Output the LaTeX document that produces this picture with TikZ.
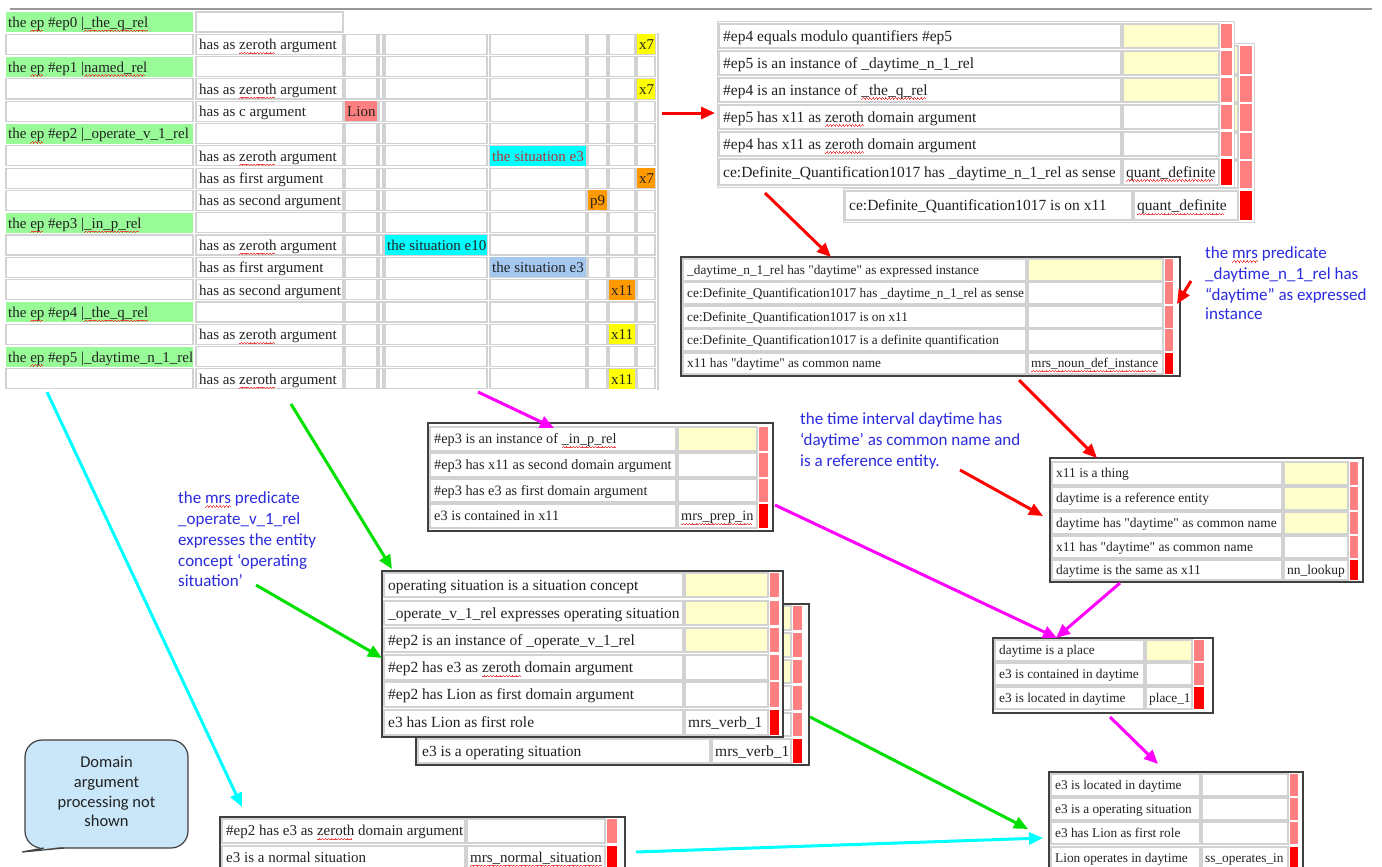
\documentclass[tikz,border=0pt]{standalone}
\usepackage{fontspec}
\setmainfont{Liberation Serif}
\newfontfamily\rawserif{Liberation Serif}
\newfontfamily\calib{Carlito}
\usetikzlibrary{arrows.meta}

\definecolor{lgreen}{HTML}{98FB98}
\definecolor{xyellow}{HTML}{FFFF00}
\definecolor{xorange}{HTML}{FF9900}
\definecolor{xsalmon}{HTML}{FF8080}
\definecolor{xcyan}{HTML}{00FFFF}
\definecolor{xlblue}{HTML}{A4C8F0}
\definecolor{pale}{HTML}{FFFFCC}
\definecolor{cellgray}{HTML}{D2D2D2}
\definecolor{framegray}{HTML}{404040}
\definecolor{notes}{HTML}{2B2BE0}
\definecolor{bubble}{HTML}{C9E7F8}
\definecolor{ink}{HTML}{222222}
\definecolor{sitred}{HTML}{B83232}
\definecolor{amag}{HTML}{FF00FF}
\definecolor{agreen}{HTML}{00E000}
\definecolor{acyan}{HTML}{00FFFF}
\definecolor{ared}{HTML}{FF0000}
\definecolor{squig}{HTML}{F04848}

% red wavy spell-check underline, built from tiny rules
\newcommand\wv{\hbox{\rule[-4.2pt]{.8pt}{.7pt}\rule[-3.6pt]{.8pt}{.7pt}\rule[-3.0pt]{.8pt}{.7pt}\rule[-3.6pt]{.8pt}{.7pt}}}
\newcommand\sqg[1]{\setbox0=\hbox{#1}\leavevmode\rlap{\textcolor{squig}{\leaders\wv\hskip\wd0\relax}}\box0\relax}
% straight double quote (no TeX quote mapping)
\newcommand\dq{{\rawserif\char"0022}}

% auto-named text nodes
\newcounter{nd}
\newcommand\tx[4][]{\stepcounter{nd}\node[txt,#1] (t\arabic{nd}) at ({#2},{#3}) {#4};}

% ---- the argument table (top left)
\newcommand\tlfont{\fontsize{15}{18}\selectfont}
\newcommand\tlgrid[1]{%
  \pgfmathsetmacro\yt{12+22.3*#1}\pgfmathsetmacro\yb{\yt+20}%
  \foreach \a/\b in {196/343,345/377,379/383,385/487,490/586,588/607,609/635,637/655}
    {\draw[cellln,fill=white] (\a,\yt) rectangle (\b,\yb);}}
\newcommand\tlhead[2]{%
  \tlgrid{#1}%
  \pgfmathsetmacro\yt{12+22.3*#1}\pgfmathsetmacro\yb{\yt+20}%
  \fill[lgreen] (6,\yt) rectangle (193,\yb);
  \tx{8}{\yt+15.5}{\tlfont #2}}
\newcommand\tlarg[2]{%
  \tlgrid{#1}%
  \pgfmathsetmacro\yt{12+22.3*#1}\pgfmathsetmacro\yb{\yt+20}%
  \draw[cellln,fill=white] (6,\yt) rectangle (193,\yb);
  \tx{199}{\yt+15.5}{\tlfont #2}}
\newcommand\tlval[6]{%
  \pgfmathsetmacro\yt{12+22.3*#1}\pgfmathsetmacro\yb{\yt+20}%
  \fill[#4] (#2,\yt) rectangle (#3,\yb);
  \tx[text=#5]{#2+2}{\yt+15.5}{\tlfont #6}}

% ---- fact tables: left, value column, bar from, bar to, font size
\newcommand\ftab[5]{\def\tL{#1}\def\tC{#2}\def\tBa{#3}\def\tBb{#4}\def\tF{#5}}
% row: top, bottom, text, value fill, value, bar fill
\newcommand\frow[6]{%
  \draw[cellln,fill=white] ({\tL+2},#1) rectangle ({\tC-1},#2);
  \draw[cellln,fill=#4] ({\tC+1},#1) rectangle ({\tBa-2},#2);
  \fill[#6] (\tBa,#1) rectangle (\tBb,#2);
  \pgfmathsetmacro\bl{(#1+#2)/2+0.33*\tF}%
  \if\relax\detokenize{#3}\relax\else\tx{\tL+6}{\bl}{\fontsize{\tF}{\tF}\selectfont #3}\fi
  \if\relax\detokenize{#5}\relax\else\tx{\tC+4}{\bl}{\fontsize{\tF}{\tF}\selectfont #5}\fi}

\begin{document}
\begin{tikzpicture}[x=1pt,y=-1pt,
  txt/.style={anchor=base west,inner sep=0pt,text=ink},
  cellln/.style={draw=cellgray,line width=1.2pt},
  frame/.style={draw=framegray,line width=1.6pt,fill=white},
  lframe/.style={draw=cellgray,line width=1pt,fill=white},
  arr/.style={line width=3pt,-{Triangle[length=14pt,width=12pt]}},
  note/.style={anchor=base west,inner sep=0pt,text=notes,font=\calib\fontsize{17}{20}\selectfont}]

\path[use as bounding box] (0,0) rectangle (1382,867);
\clip (0,0) rectangle (1382,867);
\fill[white] (0,0) rectangle (1382,867);

% top rule
\draw[gray!80,line width=1.5pt] (10,9) -- (1372,9);

% ================= argument table
\draw[cellln,fill=white] (196,12) rectangle (343,32);
\fill[lgreen] (6,12) rectangle (193,32);
\tx{8}{27.5}{\tlfont the \sqg{ep} \#ep0 |\sqg{\_the\_q\_rel}}
\tlarg{1}{has as \sqg{zeroth} argument}
\tlval{1}{637}{655}{xyellow}{ink}{x7}
\tlhead{2}{the \sqg{ep} \#ep1 |\sqg{named\_rel}}
\tlarg{3}{has as \sqg{zeroth} argument}
\tlval{3}{637}{655}{xyellow}{ink}{x7}
\tlarg{4}{has as c argument}
\tlval{4}{345}{377}{xsalmon}{ink}{Lion}
\tlhead{5}{the \sqg{ep} \#ep2 |\_operate\_v\_1\_rel}
\tlarg{6}{has as \sqg{zeroth} argument}
\tlval{6}{490}{586}{xcyan}{sitred}{the situation e3}
\tlarg{7}{has as first argument}
\tlval{7}{637}{655}{xorange}{ink}{x7}
\tlarg{8}{has as second argument}
\tlval{8}{588}{607}{xorange}{ink}{p9}
\tlhead{9}{the \sqg{ep} \#ep3 |\sqg{\_in\_p\_rel}}
\tlarg{10}{has as \sqg{zeroth} argument}
\tlval{10}{385}{487}{xcyan}{ink}{the situation e10}
\tlarg{11}{has as first argument}
\tlval{11}{490}{586}{xlblue}{ink}{the situation e3}
\tlarg{12}{has as second argument}
\tlval{12}{609}{635}{xorange}{ink}{x11}
\tlhead{13}{the \sqg{ep} \#ep4 |\sqg{\_the\_q\_rel}}
\tlarg{14}{has as \sqg{zeroth} argument}
\tlval{14}{609}{635}{xyellow}{ink}{x11}
\tlhead{15}{the \sqg{ep} \#ep5 |\_daytime\_n\_1\_rel}
\tlarg{16}{has as \sqg{zeroth} argument}
\tlval{16}{609}{635}{xyellow}{ink}{x11}
\draw[cellgray,line width=1.5pt] (658,33) -- (658,390);

% ================= quantifier tables (top right)
\draw[lframe] (843,44) rectangle (1254,222);
\ftab{843}{1133}{1240}{1252}{15.5}
\frow{46}{74}{}{pale}{}{xsalmon}
\frow{76}{102}{}{pale}{}{xsalmon}
\frow{104}{131}{}{pale}{}{xsalmon}
\frow{133}{159}{}{white}{}{xsalmon}
\frow{161}{188}{}{white}{}{xsalmon}
\frow{191}{220}{ce:Definite\_Quantification1017 is on x11}{white}{\sqg{quant\_definite}}{ared}

\draw[lframe] (717,22) rectangle (1234,187);
\ftab{717}{1122}{1221}{1232}{15.5}
\frow{24}{48}{\#ep4 equals modulo quantifiers \#ep5}{pale}{}{xsalmon}
\frow{51}{75}{\#ep5 is an instance of \_daytime\_n\_1\_rel}{pale}{}{xsalmon}
\frow{78}{102}{\#ep4 is an instance of \sqg{\_the\_q\_rel}}{pale}{}{xsalmon}
\frow{105}{129}{\#ep5 has x11 as \sqg{zeroth} domain argument}{white}{}{xsalmon}
\frow{132}{156}{\#ep4 has x11 as \sqg{zeroth} domain argument}{white}{}{xsalmon}
\frow{159}{185}{ce:Definite\_Quantification1017 has \_daytime\_n\_1\_rel as sense}{white}{\sqg{quant\_definite}}{ared}

% ================= noun table
\draw[frame] (681,257) rectangle (1180,376);
\ftab{681}{1027}{1165}{1173}{13.3}
\frow{259}{281}{\_daytime\_n\_1\_rel has \dq daytime\dq{} as expressed instance}{pale}{}{xsalmon}
\frow{282}{304}{ce:Definite\_Quantification1017 has \_daytime\_n\_1\_rel as sense}{white}{}{xsalmon}
\frow{306}{328}{ce:Definite\_Quantification1017 is on x11}{white}{}{xsalmon}
\frow{329}{351}{ce:Definite\_Quantification1017 is a definite quantification}{white}{}{xsalmon}
\frow{353}{374}{x11 has \dq daytime\dq{} as common name}{white}{\sqg{mrs\_noun\_def\_instance}}{ared}

% ================= preposition table
\draw[frame] (428,423) rectangle (773,531);
\ftab{428}{677}{759}{768}{14.3}
\frow{427}{451}{\#ep3 is an instance of \sqg{\_in\_p\_rel}}{pale}{}{xsalmon}
\frow{453}{477}{\#ep3 has x11 as second domain argument}{white}{}{xsalmon}
\frow{479}{502}{\#ep3 has e3 as first domain argument}{white}{}{xsalmon}
\frow{504}{528}{e3 is contained in x11}{white}{\sqg{mrs\_prep\_in}}{ared}

% ================= lookup table
\draw[frame] (1050,458) rectangle (1363,582);
\ftab{1050}{1283}{1350}{1358}{13.5}
\frow{462}{485}{x11 is a thing}{pale}{}{xsalmon}
\frow{487}{510}{daytime is a reference entity}{pale}{}{xsalmon}
\frow{512}{534}{daytime has \dq daytime\dq{} as common name}{pale}{}{xsalmon}
\frow{536}{558}{x11 has \dq daytime\dq{} as common name}{white}{}{xsalmon}
\frow{560}{580}{daytime is the same as x11}{white}{nn\_lookup}{ared}

% ================= verb tables
\draw[frame] (416,604) rectangle (809,765);
\ftab{416}{711}{793}{802}{15.5}
\frow{606}{630}{}{pale}{}{xsalmon}
\frow{633}{657}{}{pale}{}{xsalmon}
\frow{660}{683}{}{pale}{}{xsalmon}
\frow{686}{710}{}{white}{}{xsalmon}
\frow{713}{736}{}{white}{}{xsalmon}
\frow{739}{763}{e3 is a operating situation}{white}{mrs\_verb\_1}{ared}

\draw[frame] (382,571) rectangle (783,737);
\ftab{382}{684}{770}{779}{15.5}
\frow{573}{597}{operating situation is a situation concept}{pale}{}{xsalmon}
\frow{601}{625}{\_operate\_v\_1\_rel expresses operating situation}{pale}{}{xsalmon}
\frow{628}{652}{\#ep2 is an instance of \_operate\_v\_1\_rel}{pale}{}{xsalmon}
\frow{655}{680}{\#ep2 has e3 as \sqg{zeroth} domain argument}{white}{}{xsalmon}
\frow{682}{707}{\#ep2 has Lion as first domain argument}{white}{}{xsalmon}
\frow{710}{735}{e3 has Lion as first role}{white}{mrs\_verb\_1}{ared}

% ================= place table
\draw[frame] (993,638) rectangle (1213,713);
\ftab{993}{1145}{1194}{1204}{13.3}
\frow{640}{661}{daytime is a place}{pale}{}{xsalmon}
\frow{663}{685}{e3 is contained in daytime}{white}{}{xsalmon}
\frow{687}{709}{e3 is located in daytime}{white}{place\_1}{ared}

% ================= operates-in table
\draw[frame] (1049,772) rectangle (1303,875);
\ftab{1049}{1201}{1290}{1298}{13.3}
\frow{774}{796}{e3 is located in daytime}{white}{}{xsalmon}
\frow{798}{820}{e3 is a operating situation}{white}{}{xsalmon}
\frow{822}{844}{e3 has Lion as first role}{white}{}{xsalmon}
\frow{847}{869}{Lion operates in daytime}{white}{ss\_operates\_in}{ared}

% ================= normal situation table
\draw[frame] (220,817) rectangle (625,875);
\ftab{220}{466}{607}{617}{15}
\frow{819}{843}{\#ep2 has e3 as \sqg{zeroth} domain argument}{white}{}{xsalmon}
\frow{846}{869}{e3 is a normal situation}{white}{\sqg{mrs\_normal\_situation}}{ared}

% ================= callout
\draw[framegray,line width=1.2pt,fill=bubble,rounded corners=17pt] (25,740) rectangle (188,848);
\fill[bubble] (44,846.5) -- (22,852) -- (64,846.5) -- cycle;
\draw[framegray,line width=1.2pt] (44,848) -- (22,852) -- (64,848);
\tx[anchor=base,font=\calib\fontsize{16.5}{19}\selectfont]{106.5}{767}{Domain}
\tx[anchor=base,font=\calib\fontsize{16.5}{19}\selectfont]{106.5}{787}{argument}
\tx[anchor=base,font=\calib\fontsize{16.5}{19}\selectfont]{106.5}{807}{processing not}
\tx[anchor=base,font=\calib\fontsize{16.5}{19}\selectfont]{106.5}{826}{shown}

% ================= notes
\tx[note]{1205}{258}{the \sqg{mrs} predicate}
\tx[note]{1205}{279}{\_daytime\_n\_1\_rel has}
\tx[note]{1205}{300}{“daytime” as expressed}
\tx[note]{1205}{319}{instance}

\tx[note]{800}{424}{the time interval daytime has}
\tx[note]{800}{445}{‘daytime’ as common name and}
\tx[note]{800}{466}{is a reference entity.}

\tx[note]{178}{503}{the \sqg{mrs} predicate}
\tx[note]{178}{524}{\_operate\_v\_1\_rel}
\tx[note]{178}{545}{expresses the entity}
\tx[note]{178}{566}{concept ‘operating}
\tx[note]{178}{586}{situation’}

% ================= connectors
\coordinate (r1a) at (662,113);  \coordinate (r1b) at (715,113);
\coordinate (r2a) at (765,193);  \coordinate (r2b) at (831,257);
\coordinate (r3a) at (1191,281); \coordinate (r3b) at (1177,304);
\coordinate (r4a) at (1019,380); \coordinate (r4b) at (1097,458);
\coordinate (r5a) at (960,470);  \coordinate (r5b) at (1043,516);
\coordinate (m1a) at (478,392);  \coordinate (m1b) at (554,428);
\coordinate (m2a) at (775,505);  \coordinate (m2b) at (1057,638);
\coordinate (m3a) at (1120,583); \coordinate (m3b) at (1056,638);
\coordinate (m4a) at (1110,717); \coordinate (m4b) at (1158,764);
\coordinate (g1a) at (291,404);  \coordinate (g1b) at (392,569);
\coordinate (g2a) at (256,585);  \coordinate (g2b) at (382,658);
\coordinate (g3a) at (810,717);  \coordinate (g3b) at (1028,829);
\coordinate (c1a) at (47,392);   \coordinate (c1b) at (242,807);
\coordinate (c2a) at (636,852);  \coordinate (c2b) at (1043,838);

\draw[arr,ared] (r1a) -- (r1b);
\draw[arr,ared] (r2a) -- (r2b);
\draw[arr,ared] (r3a) -- (r3b);
\draw[arr,ared] (r4a) -- (r4b);
\draw[arr,ared] (r5a) -- (r5b);
\draw[arr,amag] (m1a) -- (m1b);
\draw[arr,amag] (m2a) -- (m2b);
\draw[arr,amag] (m3a) -- (m3b);
\draw[arr,amag] (m4a) -- (m4b);
\draw[arr,agreen] (g1a) -- (g1b);
\draw[arr,agreen] (g2a) -- (g2b);
\draw[arr,agreen] (g3a) -- (g3b);
\draw[arr,acyan] (c1a) -- (c1b);
\draw[arr,acyan] (c2a) -- (c2b);
\end{tikzpicture}
\end{document}
